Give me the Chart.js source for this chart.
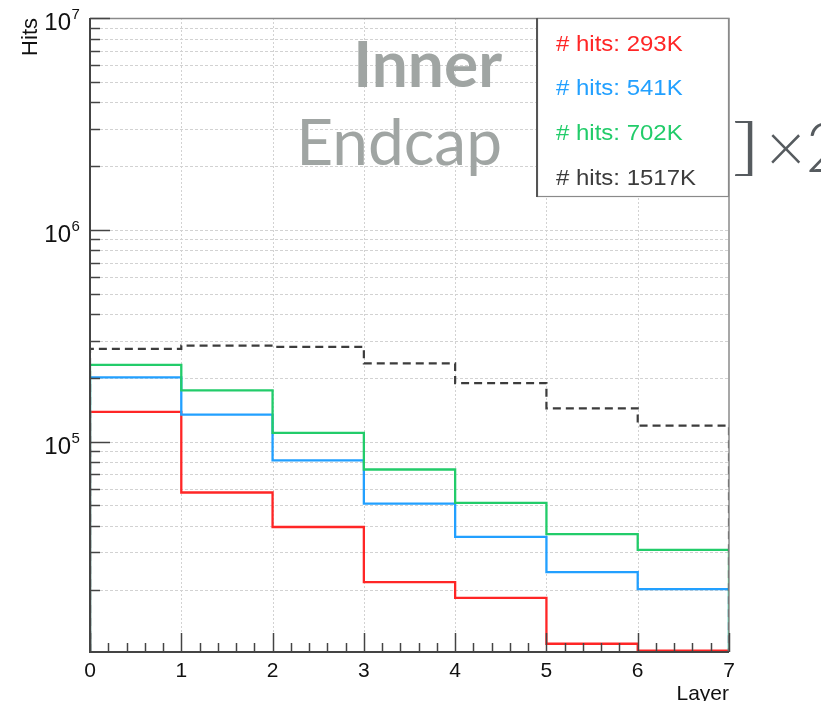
<!DOCTYPE html>
<html>
<head>
<meta charset="utf-8">
<title>Inner Endcap hits per layer</title>
<script src="https://cdn.jsdelivr.net/npm/chart.js@4.4.0/dist/chart.umd.min.js"></script>
<style>
  html, body { margin: 0; padding: 0; background: #ffffff; overflow: hidden; }
  #wrap { width: 821px; height: 701px; position: relative; }
</style>
</head>
<body>
<div id="wrap"><canvas id="c" width="821" height="701"></canvas></div>
<script>
// Layer bins (edges 0..7) and hit counts per layer
const layerEdges = [0, 1, 2, 3, 4, 5, 6, 7];
const hitsRed   = [138000, 57500, 39500, 21700, 18300, 11100, 10300];
const hitsBlue  = [201000, 134000, 81600, 50900, 35500, 24200, 20100];
const hitsGreen = [230000, 174600, 110000, 73800, 51300, 36600, 30800];
const hitsTotal = [274000, 284000, 280000, 234000, 189000, 143600, 119000];

const legendLabels = ['# hits: 293K', '# hits: 541K', '# hits: 702K', '# hits: 1517K'];
const seriesColors = ['#ff2626', '#22a0ff', '#22cc6a', '#3c3c3c'];

const xTickLabels = ['0', '1', '2', '3', '4', '5', '6', '7'];
const yDecadeTicks = [1e5, 1e6, 1e7];
const yDecadeExponents = ['5', '6', '7'];

const yMin = 10150;
const yMax = 1e7;

// Turn per-bin values into a closed histogram outline
function histogramPoints(values) {
  const pts = [{ x: layerEdges[0], y: yMin }];
  values.forEach((v, i) => pts.push({ x: layerEdges[i], y: v }));
  pts.push({ x: layerEdges[layerEdges.length - 1], y: values[values.length - 1] });
  pts.push({ x: layerEdges[layerEdges.length - 1], y: yMin });
  return pts;
}

const allSeries = [hitsRed, hitsBlue, hitsGreen, hitsTotal];

const datasets = allSeries.map((vals, i) => ({
  label: legendLabels[i],
  data: histogramPoints(vals),
  borderColor: seriesColors[i],
  borderWidth: i === 3 ? 2.2 : 2.3,
  borderDash: i === 3 ? [8, 5] : [],
  stepped: 'before',
  pointRadius: 0,
  fill: false,
  order: 3 - i
}));

const decor = {
  id: 'rootStyle',
  beforeDatasetsDraw(chart) {
    const { ctx, chartArea: a, scales: { x, y } } = chart;
    ctx.save();
    ctx.strokeStyle = '#d2d2d2';
    ctx.lineWidth = 1;
    ctx.setLineDash([3, 2]);
    // horizontal grid at every log tick
    for (let d = 1e4; d < yMax; d *= 10) {
      for (let m = 1; m <= 9; m++) {
        const v = m * d;
        if (v <= yMin || v >= yMax) continue;
        const py = Math.round(y.getPixelForValue(v)) + 0.5;
        ctx.beginPath();
        ctx.moveTo(a.left, py);
        ctx.lineTo(a.right, py);
        ctx.stroke();
      }
    }
    // vertical grid at integer layers
    ctx.setLineDash([2, 2]);
    for (let t = 1; t < layerEdges.length - 1; t++) {
      const px = Math.round(x.getPixelForValue(layerEdges[t])) + 0.5;
      ctx.beginPath();
      ctx.moveTo(px, a.top);
      ctx.lineTo(px, a.bottom);
      ctx.stroke();
    }
    ctx.restore();
  },
  afterDatasetsDraw(chart) {
    const { ctx, chartArea: a, scales: { x, y } } = chart;
    ctx.save();
    ctx.setLineDash([]);

    // frame: top and right
    ctx.strokeStyle = '#8a8a8a';
    ctx.lineWidth = 1.5;
    ctx.beginPath();
    ctx.moveTo(a.left, a.top + 0.5);
    ctx.lineTo(a.right, a.top + 0.5);
    ctx.lineTo(a.right, a.bottom);
    ctx.stroke();

    // axis lines
    ctx.strokeStyle = '#444444';
    ctx.lineWidth = 2;
    ctx.beginPath();
    ctx.moveTo(a.left, a.top);
    ctx.lineTo(a.left, a.bottom);
    ctx.lineTo(a.right, a.bottom);
    ctx.stroke();

    // y ticks (inside the frame)
    ctx.lineWidth = 1.5;
    for (let d = 1e4; d <= yMax; d *= 10) {
      for (let m = 1; m <= 9; m++) {
        const v = m * d;
        if (v <= yMin || v > yMax) continue;
        const py = Math.round(y.getPixelForValue(v)) + 0.5;
        const len = m === 1 ? 20 : 10;
        ctx.beginPath();
        ctx.moveTo(a.left, py);
        ctx.lineTo(a.left + len, py);
        ctx.stroke();
      }
    }
    // x ticks (inside the frame)
    for (let k = 0; k <= 35; k++) {
      const v = k * 0.2;
      const px = Math.round(x.getPixelForValue(v)) + 0.5;
      const len = k % 5 === 0 ? 19 : 9;
      ctx.beginPath();
      ctx.moveTo(px, a.bottom);
      ctx.lineTo(px, a.bottom - len);
      ctx.stroke();
    }

    // y tick labels 10^n
    ctx.fillStyle = '#111111';
    yDecadeTicks.forEach((v, i) => {
      const py = y.getPixelForValue(v);
      ctx.font = '24px "Liberation Sans", Arial, sans-serif';
      ctx.textAlign = 'right';
      ctx.textBaseline = 'alphabetic';
      ctx.fillText('10', 71, py + 12);
      ctx.font = '15px "Liberation Sans", Arial, sans-serif';
      ctx.textAlign = 'left';
      ctx.fillText(yDecadeExponents[i], 71.5, py + 1);
    });

    // x tick labels
    ctx.font = '21px "Liberation Sans", Arial, sans-serif';
    ctx.textAlign = 'center';
    ctx.textBaseline = 'alphabetic';
    xTickLabels.forEach((lab, i) => {
      ctx.fillText(lab, x.getPixelForValue(layerEdges[i]), 677);
    });

    // axis titles
    ctx.font = '21px "Liberation Sans", Arial, sans-serif';
    ctx.textAlign = 'right';
    ctx.fillText('Layer', a.right, 700);

    ctx.save();
    ctx.translate(37, a.top);
    ctx.rotate(-Math.PI / 2);
    ctx.font = '22px "Liberation Sans", Arial, sans-serif';
    ctx.textAlign = 'right';
    ctx.textBaseline = 'alphabetic';
    ctx.fillText('Hits', 0, 0);
    ctx.restore();

    // legend box
    const lx = 537, ly = a.top, lw = a.right - 537, lh = 197 - a.top;
    ctx.fillStyle = '#ffffff';
    ctx.fillRect(lx, ly, lw, lh);
    ctx.strokeStyle = '#8a8a8a';
    ctx.lineWidth = 1.2;
    ctx.strokeRect(lx + 0.5, ly + 0.5, lw - 1, lh - 1);
    ctx.strokeStyle = '#555555';
    ctx.lineWidth = 2;
    ctx.beginPath();
    ctx.moveTo(lx, ly);
    ctx.lineTo(lx, ly + lh);
    ctx.stroke();

    ctx.font = '22px "Liberation Sans", Arial, sans-serif';
    ctx.textAlign = 'left';
    ctx.textBaseline = 'alphabetic';
    const baselines = [51, 95, 139.5, 185];
    legendLabels.forEach((lab, i) => {
      ctx.fillStyle = seriesColors[i];
      ctx.save();
      ctx.translate(556, baselines[i]);
      ctx.scale(1.09, 1);
      ctx.fillText(lab, 0, 0);
      ctx.restore();
    });

    // detector label
    ctx.fillStyle = '#a0a5a3';
    ctx.textAlign = 'right';
    ctx.font = 'bold 64px Lato, "Open Sans", sans-serif';
    ctx.fillText('Inner', 502, 87);
    ctx.font = '64px Lato, "Open Sans", sans-serif';
    ctx.fillText('Endcap', 502, 165);

    // multiplicity marker beside the frame
    ctx.fillStyle = '#565b5f';
    ctx.textAlign = 'left';
    ctx.save();
    ctx.translate(731, 168);
    ctx.scale(1.7, 0.95);
    ctx.font = '300 64px Lato, "Open Sans", sans-serif';
    ctx.fillText(']', 0, 0);
    ctx.restore();
    ctx.font = '300 68px Lato, "Open Sans", sans-serif';
    ctx.fillText('\u00d72', 766, 172);

    ctx.restore();
  }
};

new Chart(document.getElementById('c'), {
  type: 'line',
  data: { datasets },
  options: {
    responsive: false,
    animation: false,
    devicePixelRatio: 1,
    layout: { padding: { left: 90, right: 92, top: 18, bottom: 49 } },
    plugins: { legend: { display: false }, tooltip: { enabled: false } },
    scales: {
      x: { type: 'linear', min: layerEdges[0], max: layerEdges[layerEdges.length - 1], display: false },
      y: { type: 'logarithmic', min: yMin, max: yMax, display: false }
    }
  },
  plugins: [decor]
});
</script>
</body>
</html>
